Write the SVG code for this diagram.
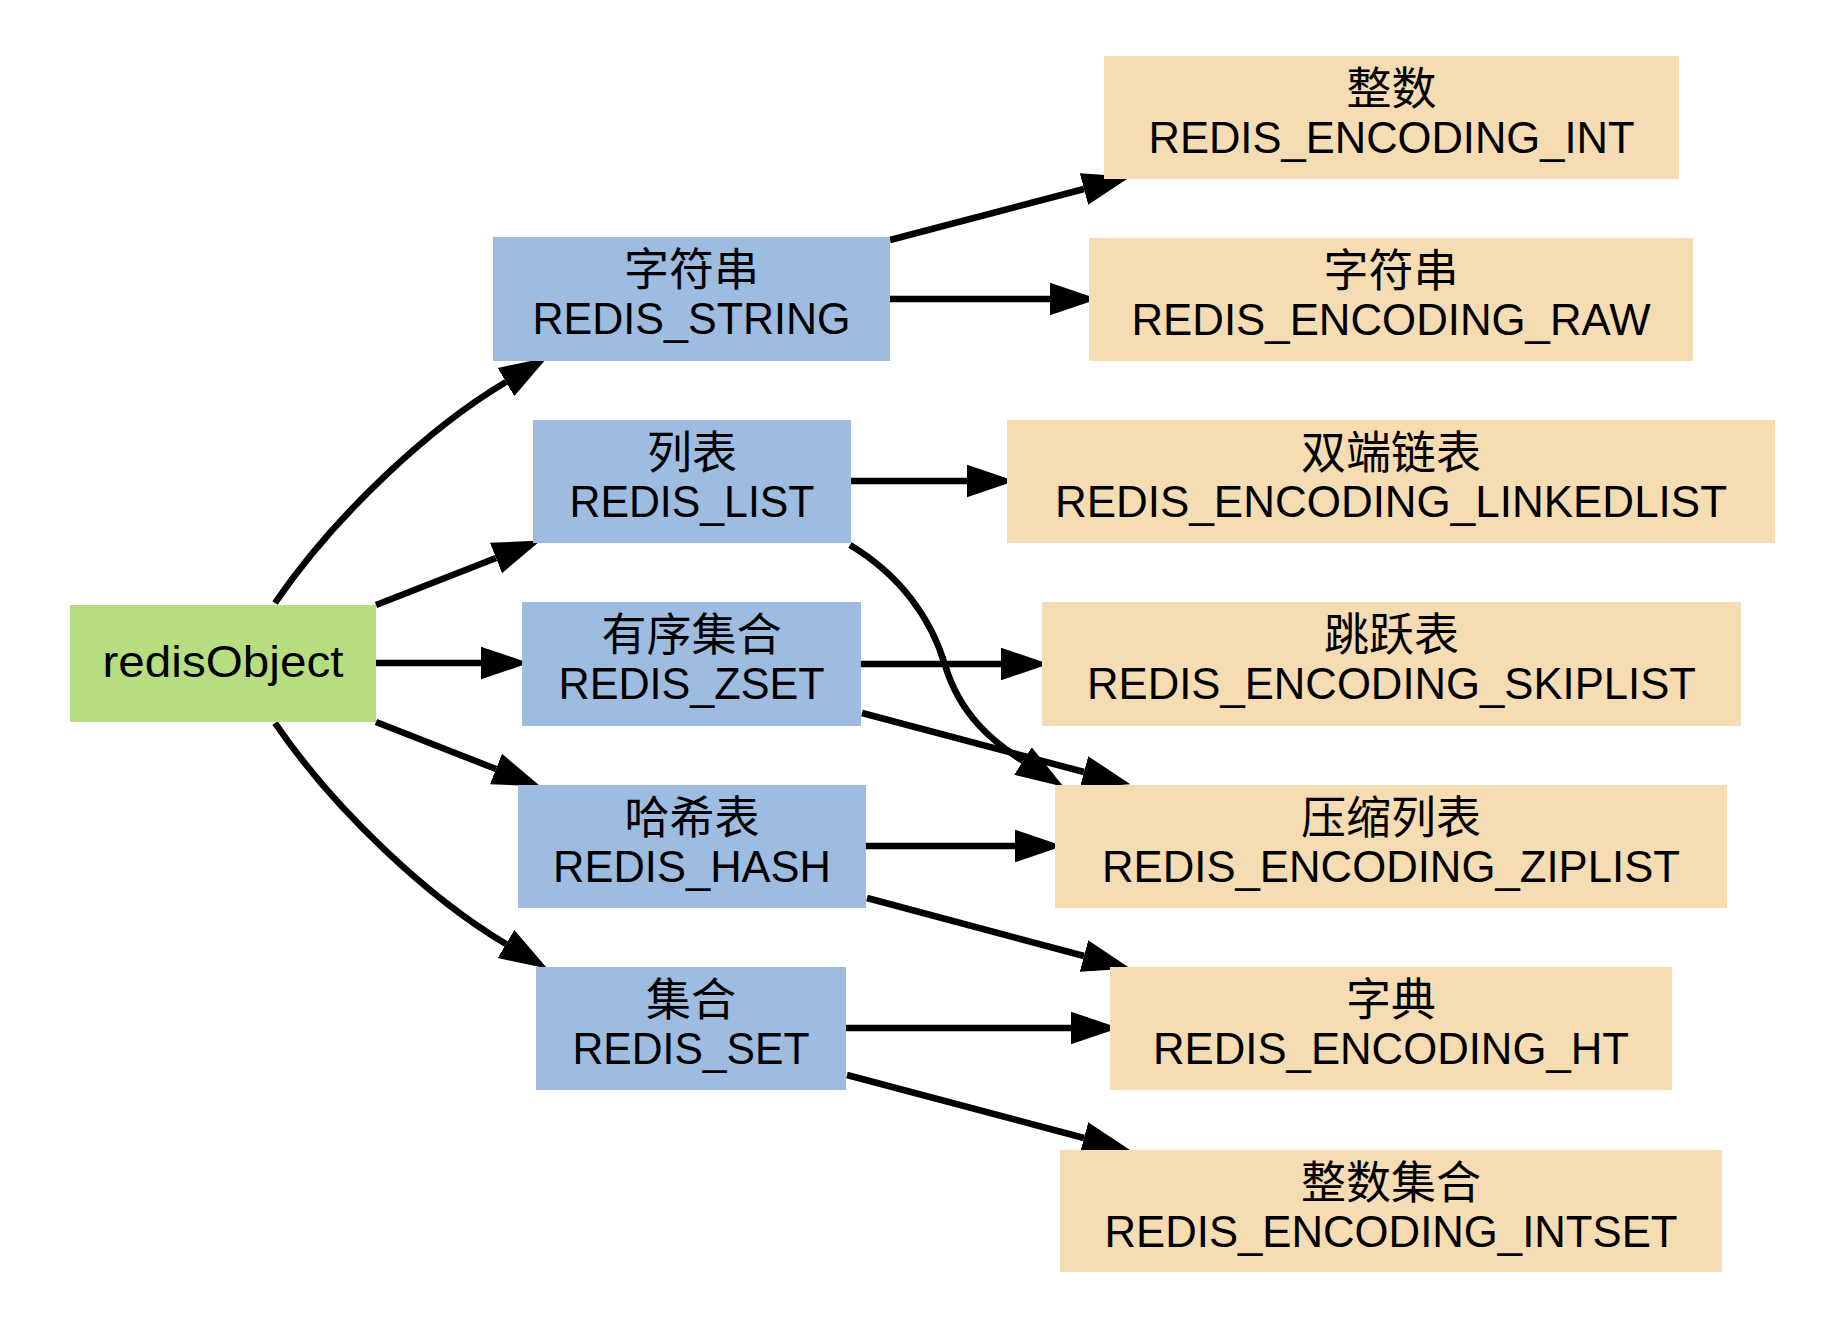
<svg xmlns="http://www.w3.org/2000/svg" width="1832" height="1320" viewBox="0 0 1832 1320">
<style>
.root{fill:#b6de81}
.type{fill:#9dbce0}
.enc{fill:#f5dcb3}
.zh{font-family:"Noto Sans CJK SC","Liberation Sans",sans-serif;font-size:45px;fill:#000;text-anchor:middle}
.en{font-family:"Liberation Sans","Noto Sans CJK SC",sans-serif;font-size:44px;fill:#000;text-anchor:middle}
.edge{fill:none;stroke:#000;stroke-width:6.5;marker-end:url(#arrow)}
</style>
<defs>
<marker id="arrow" markerUnits="userSpaceOnUse" markerWidth="48" markerHeight="34" refX="0" refY="16" orient="auto" viewBox="0 0 47 32">
<path d="M0,0 L47,16 L0,32 Z" fill="#000"/>
</marker>
</defs>
<rect width="1832" height="1320" fill="#fff"/>

<g id="connectors">
<path class="edge" d="M275,603 C335,515 430,427 506,382"/>
<path class="edge" d="M376,605 L496,558"/>
<path class="edge" d="M376,663 L481,663"/>
<path class="edge" d="M376,722 L496,769"/>
<path class="edge" d="M275,723 C335,811 430,899 506,944"/>
<path class="edge" d="M890,240 L1084,189"/>
<path class="edge" d="M890,299 L1050,299"/>
<path class="edge" d="M851,481 L967,481"/>
<path class="edge" d="M850,545 C900,575 931,618 945,665 C960,715 993,742 1023,761"/>
<path class="edge" d="M861,664 L1001,664"/>
<path class="edge" d="M862,713 L1084,772"/>
<path class="edge" d="M866,846 L1015,846"/>
<path class="edge" d="M867,898 L1084,956"/>
<path class="edge" d="M846,1028 L1071,1028"/>
<path class="edge" d="M847,1075 L1084,1138"/>
</g>

<g id="redisObject">
<rect class="root" x="70" y="605" width="306" height="117"/>
<text class="en" x="223" y="677" textLength="241" lengthAdjust="spacingAndGlyphs">redisObject</text>
</g>

<g id="REDIS_STRING">
<rect class="type" x="493" y="237" width="397" height="124"/>
<text class="zh" x="691.5" y="286">字符串</text>
<text class="en" x="691.5" y="334" textLength="318" lengthAdjust="spacingAndGlyphs">REDIS_STRING</text>
</g>

<g id="REDIS_LIST">
<rect class="type" x="533" y="420" width="318" height="123"/>
<text class="zh" x="692" y="469">列表</text>
<text class="en" x="692" y="517" textLength="245" lengthAdjust="spacingAndGlyphs">REDIS_LIST</text>
</g>

<g id="REDIS_ZSET">
<rect class="type" x="522" y="602" width="339" height="124"/>
<text class="zh" x="691.5" y="651">有序集合</text>
<text class="en" x="691.5" y="699" textLength="266" lengthAdjust="spacingAndGlyphs">REDIS_ZSET</text>
</g>

<g id="REDIS_HASH">
<rect class="type" x="518" y="785" width="348" height="123"/>
<text class="zh" x="692" y="834">哈希表</text>
<text class="en" x="692" y="882" textLength="278" lengthAdjust="spacingAndGlyphs">REDIS_HASH</text>
</g>

<g id="REDIS_SET">
<rect class="type" x="536" y="967" width="310" height="123"/>
<text class="zh" x="691" y="1016">集合</text>
<text class="en" x="691" y="1064" textLength="237" lengthAdjust="spacingAndGlyphs">REDIS_SET</text>
</g>

<g id="REDIS_ENCODING_INT">
<rect class="enc" x="1104" y="56" width="575" height="123"/>
<text class="zh" x="1391.5" y="105">整数</text>
<text class="en" x="1391.5" y="153" textLength="486" lengthAdjust="spacingAndGlyphs">REDIS_ENCODING_INT</text>
</g>

<g id="REDIS_ENCODING_RAW">
<rect class="enc" x="1089" y="238" width="604" height="123"/>
<text class="zh" x="1391" y="287">字符串</text>
<text class="en" x="1391" y="335" textLength="519" lengthAdjust="spacingAndGlyphs">REDIS_ENCODING_RAW</text>
</g>

<g id="REDIS_ENCODING_LINKEDLIST">
<rect class="enc" x="1007" y="420" width="768" height="123"/>
<text class="zh" x="1391" y="469">双端链表</text>
<text class="en" x="1391" y="517" textLength="672" lengthAdjust="spacingAndGlyphs">REDIS_ENCODING_LINKEDLIST</text>
</g>

<g id="REDIS_ENCODING_SKIPLIST">
<rect class="enc" x="1042" y="602" width="699" height="124"/>
<text class="zh" x="1391.5" y="651">跳跃表</text>
<text class="en" x="1391.5" y="699" textLength="609" lengthAdjust="spacingAndGlyphs">REDIS_ENCODING_SKIPLIST</text>
</g>

<g id="REDIS_ENCODING_ZIPLIST">
<rect class="enc" x="1055" y="785" width="672" height="123"/>
<text class="zh" x="1391" y="834">压缩列表</text>
<text class="en" x="1391" y="882" textLength="578" lengthAdjust="spacingAndGlyphs">REDIS_ENCODING_ZIPLIST</text>
</g>

<g id="REDIS_ENCODING_HT">
<rect class="enc" x="1110" y="967" width="562" height="123"/>
<text class="zh" x="1391" y="1016">字典</text>
<text class="en" x="1391" y="1064" textLength="476" lengthAdjust="spacingAndGlyphs">REDIS_ENCODING_HT</text>
</g>

<g id="REDIS_ENCODING_INTSET">
<rect class="enc" x="1060" y="1150" width="662" height="122"/>
<text class="zh" x="1391" y="1199">整数集合</text>
<text class="en" x="1391" y="1247" textLength="573" lengthAdjust="spacingAndGlyphs">REDIS_ENCODING_INTSET</text>
</g>
</svg>
